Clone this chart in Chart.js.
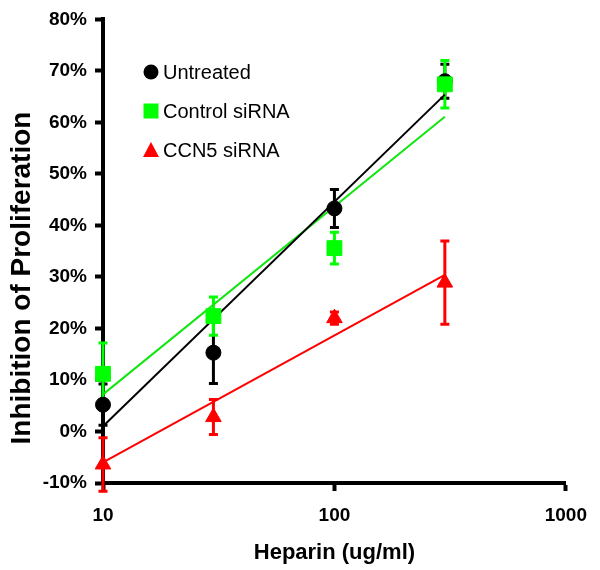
<!DOCTYPE html>
<html>
<head>
<meta charset="utf-8">
<script src="https://cdn.jsdelivr.net/npm/chart.js@4.4.1/dist/chart.umd.min.js"></script>
<style>
html, body { margin: 0; padding: 0; background: #fff; }
#wrap { width: 600px; height: 570px; }
</style>
</head>
<body>
<div id="wrap"><canvas id="heparinChart" width="600" height="570"></canvas></div>
<script>
// values (percent inhibition)
const doses = [10, 30, 100, 300];
const untreated = [5.2, 15.3, 43.3, 68.0];
const untreatedErr = [4.0, 6.0, 3.7, 3.3];
const control = [11.2, 22.4, 35.6, 67.4];
const controlErr = [6.0, 3.7, 3.1, 4.6];
const ccn5 = [-6.4, 2.8, 22.0, 28.9];
const ccn5Err = [5.2, 3.4, 1.2, 8.1];

// trend lines, ends read at 10 and 300
const trendX = [10, 300];
const untreatedTrend = [1.0, 65.4];
const controlTrend = [7.2, 61.1];
const ccn5Trend = [-6.0, 30.4];

const xTicks = [10, 100, 1000];
const yTicks = [-10, 0, 10, 20, 30, 40, 50, 60, 70, 80];

const BLACK = "#000000";
const GREEN = "#00ff00";
const GREEN_LINE = "#11e611";
const RED = "#ff0000";
const FONT = "'Liberation Sans', Arial, Helvetica, sans-serif";

function pts(xs, ys) {
	return xs.map((x, i) => ({ x: x, y: ys[i] }));
}

const errorBars = {
	id: "errorBars",
	beforeDatasetsDraw(chart) {
		const ctx = chart.ctx;
		const x = chart.scales.x;
		const y = chart.scales.y;
		chart.data.datasets.forEach(ds => {
			if (!ds.err) return;
			ctx.save();
			ctx.strokeStyle = ds.borderColor;
			ctx.lineWidth = 3;
			ds.data.forEach((p, i) => {
				const px = x.getPixelForValue(p.x);
				const top = y.getPixelForValue(p.y + ds.err[i]);
				const bot = y.getPixelForValue(p.y - ds.err[i]);
				ctx.beginPath();
				ctx.moveTo(px, top);
				ctx.lineTo(px, bot);
				ctx.moveTo(px - 4.5, top);
				ctx.lineTo(px + 4.5, top);
				ctx.moveTo(px - 4.5, bot);
				ctx.lineTo(px + 4.5, bot);
				ctx.stroke();
			});
			ctx.restore();
		});
	}
};

const legendBox = {
	id: "legendBox",
	afterDraw(chart) {
		const ctx = chart.ctx;
		const items = [
			{ text: "Untreated", color: BLACK, shape: "circle", y: 72 },
			{ text: "Control siRNA", color: GREEN, shape: "rect", y: 111 },
			{ text: "CCN5 siRNA", color: RED, shape: "triangle", y: 150 }
		];
		ctx.save();
		items.forEach(it => {
			const cx = 151;
			ctx.fillStyle = it.color;
			ctx.beginPath();
			if (it.shape === "circle") {
				ctx.arc(cx, it.y, 7.5, 0, Math.PI * 2);
			} else if (it.shape === "rect") {
				ctx.rect(cx - 7.5, it.y - 7.5, 15, 15);
			} else {
				ctx.moveTo(cx, it.y - 8);
				ctx.lineTo(cx + 8, it.y + 7);
				ctx.lineTo(cx - 8, it.y + 7);
				ctx.closePath();
			}
			ctx.fill();
			ctx.fillStyle = BLACK;
			ctx.font = "20px " + FONT;
			ctx.textAlign = "left";
			ctx.textBaseline = "middle";
			ctx.fillText(it.text, 163, it.y + 1);
		});

		// y axis title, sits a little below the middle like the original
		ctx.translate(22, 278);
		ctx.rotate(-Math.PI / 2);
		ctx.font = "bold 28px " + FONT;
		ctx.textAlign = "center";
		ctx.textBaseline = "middle";
		ctx.fillText("Inhibition of Proliferation", 0, 0);
		ctx.restore();
	}
};

const ctx = document.getElementById("heparinChart").getContext("2d");

const myChart = new Chart(ctx, {
	type: "scatter",
	data: {
		datasets: [{
			label: "Untreated",
			data: pts(doses, untreated),
			err: untreatedErr,
			pointStyle: "circle",
			pointRadius: 7.5,
			borderWidth: 1,
			backgroundColor: BLACK,
			borderColor: BLACK,
			clip: false,
			order: 1
		}, {
			label: "Control siRNA",
			data: pts(doses, control),
			err: controlErr,
			pointStyle: "rect",
			pointRadius: 10.5,
			borderWidth: 1,
			backgroundColor: GREEN,
			borderColor: GREEN,
			clip: false,
			order: 0
		}, {
			label: "CCN5 siRNA",
			data: pts(doses, ccn5),
			err: ccn5Err,
			pointStyle: "triangle",
			pointRadius: 9,
			borderWidth: 1,
			backgroundColor: RED,
			borderColor: RED,
			clip: false,
			order: 2
		}, {
			label: "Untreated trend",
			data: pts(trendX, untreatedTrend),
			showLine: true,
			pointRadius: 0,
			borderWidth: 2,
			borderColor: BLACK,
			clip: false,
			order: 3
		}, {
			label: "Control trend",
			data: pts(trendX, controlTrend),
			showLine: true,
			pointRadius: 0,
			borderWidth: 2,
			borderColor: GREEN_LINE,
			clip: false,
			order: 4
		}, {
			label: "CCN5 trend",
			data: pts(trendX, ccn5Trend),
			showLine: true,
			pointRadius: 0,
			borderWidth: 2,
			borderColor: RED,
			clip: false,
			order: 5
		}]
	},
	options: {
		responsive: false,
		animation: false,
		layout: { padding: { top: 17, right: 29, left: 0, bottom: 0 } },
		plugins: {
			legend: { display: false },
			tooltip: { enabled: false }
		},
		scales: {
			x: {
				type: "logarithmic",
				min: 10,
				max: 1000,
				afterBuildTicks: axis => {
					axis.ticks = xTicks.map(v => ({ value: v }));
				},
				afterFit: axis => {
					axis.height = 87;
				},
				ticks: {
					callback: v => String(v),
					color: BLACK,
					font: { family: FONT, size: 19, weight: "bold" },
					padding: 13,
					maxRotation: 0,
					autoSkip: false
				},
				grid: {
					drawOnChartArea: false,
					tickLength: 8,
					tickWidth: 4,
					tickColor: BLACK
				},
				border: { width: 4, color: BLACK },
				title: {
					display: true,
					text: "Heparin (ug/ml)",
					color: BLACK,
					font: { family: FONT, size: 22, weight: "bold" },
					padding: { top: 0, bottom: 4 }
				}
			},
			y: {
				min: -10,
				max: 80,
				afterBuildTicks: axis => {
					axis.ticks = yTicks.map(v => ({ value: v }));
				},
				afterFit: axis => {
					axis.width = 103;
				},
				ticks: {
					callback: v => v + "%",
					color: BLACK,
					font: { family: FONT, size: 19, weight: "bold" },
					padding: 8
				},
				grid: {
					drawOnChartArea: false,
					tickLength: 8,
					tickWidth: 4,
					tickColor: BLACK
				},
				border: { width: 4, color: BLACK }
			}
		}
	},
	plugins: [errorBars, legendBox]
});
</script>
</body>
</html>
